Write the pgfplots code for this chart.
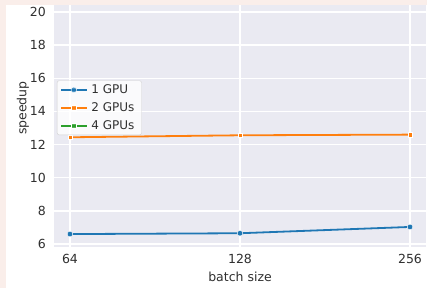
\documentclass[border=0pt]{standalone}
\usepackage{fontspec}
\setmainfont{DejaVu Sans}
\usepackage{pgfplots}
\pgfplotsset{compat=1.18}
\definecolor{pinkbg}{HTML}{FAEEEA}
\definecolor{axbg}{HTML}{EAEAF2}
\definecolor{txt}{HTML}{303030}
\definecolor{c1}{HTML}{1F77B4}
\definecolor{c2}{HTML}{FF7F0E}
\definecolor{c3}{HTML}{2CA02C}
\begin{document}
\begin{tikzpicture}
\fill[pinkbg] (0,0) rectangle (427bp,288bp);
\fill[white] (6bp,0) rectangle (427bp,283bp);
\useasboundingbox (0,0) rectangle (427bp,288bp);
\begin{axis}[
  at={(54bp,41bp)}, anchor=south west,
  scale only axis, width=372bp, height=242bp,
  xmin=-0.094, xmax=2.094, ymin=5.82, ymax=20.42,
  xtick={0,1,2}, xticklabels={64,128,256},
  ytick={6,8,10,12,14,16,18,20},
  /pgf/number format/assume math mode=true,
  axis background/.style={fill=axbg},
  axis line style={draw=none},
  major tick length=0pt,
  grid=major, major grid style={white, line width=1.3bp},
  font=\fontsize{12.5bp}{14bp}\selectfont\color{txt},
  tick label style={font=\fontsize{12.5bp}{14bp}\selectfont\color{txt}},
  yticklabel style={inner sep=0pt, xshift=-8bp},
  xticklabel style={inner sep=0pt, yshift=-7bp},
  xlabel={batch size}, ylabel={speedup},
  every axis x label/.style={at={(axis description cs:0.5,0)}, yshift=-30bp, anchor=center},
  every axis y label/.style={at={(axis description cs:0,0.574)}, xshift=-31bp, rotate=90, anchor=center},
  legend style={at={(axis description cs:0.008,0.69)}, anchor=north west, yshift=-0.5bp,
    font=\fontsize{12bp}{13bp}\selectfont\color{txt}, fill=white, fill opacity=0.8, text opacity=1,
    draw=black!18, rounded corners=2bp, inner xsep=3bp, inner ysep=2bp, row sep=3.5bp,
    nodes={inner xsep=4bp}},
  legend cell align=left,
  legend image code/.code={\draw[mark repeat=2,mark phase=2] plot coordinates {(0cm,0cm) (0.45cm,0cm) (0.9cm,0cm)};},
]
\addplot[color=c1, line width=1.8bp, mark=*, mark size=2.8bp, mark options={solid, fill=c1, draw=white, line width=0.4bp}]
  coordinates {(0,6.60) (1,6.65) (2,7.03)};
\addlegendentry{1 GPU}
\addplot[color=c2, line width=1.8bp, mark=square*, mark size=2.2bp, mark options={solid, fill=c2, draw=white, line width=0.4bp}]
  coordinates {(0,12.44) (1,12.56) (2,12.60)};
\addlegendentry{2 GPUs}
\addlegendimage{color=c3, line width=1.8bp, mark=square*, mark size=2.6bp, mark options={solid, fill=c3, draw=white, line width=0.4bp}}
\addlegendentry{4 GPUs}
\end{axis}
\end{tikzpicture}
\end{document}
